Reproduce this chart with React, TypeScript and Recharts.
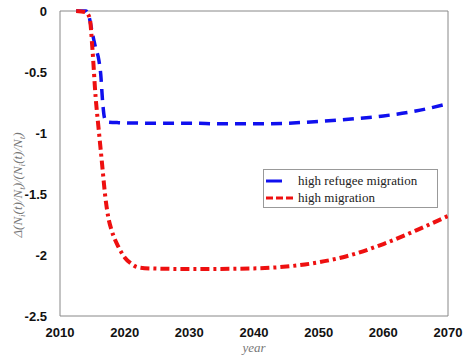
import React from 'react'
import {
  LineChart,
  Line,
  XAxis,
  YAxis,
  ReferenceLine,
  Label,
} from 'recharts'

const xTicks = [2010, 2020, 2030, 2040, 2050, 2060, 2070]
const yTicks = [0, -0.5, -1, -1.5, -2, -2.5]

const refugeeYears = [
  2012.5, 2014, 2014.4, 2015, 2015.5, 2016, 2016.3, 2016.6, 2016.9, 2017.3,
  2019, 2025, 2030, 2035, 2040, 2045, 2050, 2055, 2060, 2065, 2070,
]
const refugeeValues = [
  0, 0, -0.03, -0.18, -0.3, -0.4, -0.52, -0.75, -0.88, -0.91, -0.915, -0.92,
  -0.92, -0.925, -0.925, -0.92, -0.905, -0.885, -0.86, -0.82, -0.76,
]

const migrationYears = [
  2012.5, 2014, 2014.6, 2015, 2015.5, 2016, 2016.5, 2017, 2017.5, 2018, 2019,
  2020, 2021, 2022, 2024, 2030, 2040, 2045, 2050, 2055, 2060, 2065, 2070,
]
const migrationValues = [
  0, -0.01, -0.06, -0.3, -0.7, -0.98, -1.25, -1.52, -1.7, -1.8, -1.93, -2.02,
  -2.07, -2.1, -2.11, -2.115, -2.11, -2.095, -2.06, -2.0, -1.91, -1.8, -1.68,
]

const refugeeData = refugeeYears.map((year, i) => ({ year, value: refugeeValues[i] }))
const migrationData = migrationYears.map((year, i) => ({ year, value: migrationValues[i] }))

const tickStyle = {
  fontFamily: '"Liberation Sans", Arial, sans-serif',
  fontSize: 13,
  fontWeight: 'bold',
  fill: '#111',
}

const legendItems = [
  { name: 'high refugee migration', color: '#1010ee', dash: '0', len: 16 },
  { name: 'high migration', color: '#ee1010', dash: '7 3', len: 28 },
]

// legend box drawn over the plot, like the matlab one
const LegendBox = () => (
  <div
    style={{
      position: 'absolute',
      left: 263,
      top: 169,
      width: 175,
      height: 39,
      border: '1px solid #999',
      background: '#fff',
      fontFamily: '"Liberation Serif", serif',
      fontSize: 13,
      color: '#222',
      boxSizing: 'border-box',
      paddingTop: 2,
    }}
  >
    {legendItems.map((item) => (
      <div key={item.name} style={{ display: 'flex', alignItems: 'center', height: 17 }}>
        <svg width={34} height={10}>
          <line
            x1={2}
            x2={2 + item.len}
            y1={5}
            y2={5}
            stroke={item.color}
            strokeWidth={3}
            strokeDasharray={item.dash}
          />
        </svg>
        <span>{item.name}</span>
      </div>
    ))}
  </div>
)

const YLabel = () => {
  const cx = 22
  const cy = 185
  return (
    <text
      x={cx}
      y={cy}
      transform={`rotate(-90, ${cx}, ${cy})`}
      textAnchor="middle"
      fill="#777"
      fontFamily='"Liberation Serif", serif'
      fontStyle="italic"
      fontSize={13}
    >
      Δ(N<tspan fontSize={9} dy={3}>i</tspan>
      <tspan dy={-3}>(t)/N</tspan>
      <tspan fontSize={9} dy={3}>t</tspan>
      <tspan dy={-3}>)/(N</tspan>
      <tspan fontSize={9} dy={3}>i</tspan>
      <tspan dy={-3}>(t)/N</tspan>
      <tspan fontSize={9} dy={3}>t</tspan>
      <tspan dy={-3}>)</tspan>
    </text>
  )
}

export default function App() {
  return (
    <div style={{ position: 'absolute', left: 0, top: 0, width: 465, height: 358, background: '#fff' }}>
      <LineChart
        width={465}
        height={358}
        margin={{ top: 11, right: 17, left: 0, bottom: 0 }}
      >
        <XAxis
          dataKey="year"
          type="number"
          domain={[2010, 2070]}
          ticks={xTicks}
          allowDataOverflow
          tick={tickStyle}
          tickLine={false}
          tickMargin={6}
          height={42}
          stroke="#888"
        >
          <Label
            value="year"
            position="insideBottom"
            offset={6}
            fill="#777"
            fontFamily='"Liberation Serif", serif'
            fontStyle="italic"
            fontSize={13}
          />
        </XAxis>
        <YAxis
          dataKey="value"
          type="number"
          domain={[-2.5, 0]}
          ticks={yTicks}
          tick={tickStyle}
          tickLine={false}
          tickMargin={7}
          width={60}
          stroke="#888"
          label={<YLabel />}
        />
        <ReferenceLine y={0} stroke="#888" />
        <ReferenceLine x={2070} stroke="#888" />
        <Line
          data={refugeeData}
          dataKey="value"
          name="high refugee migration"
          type="monotone"
          stroke="#1010ee"
          strokeWidth={3.5}
          strokeDasharray="11 7"
          dot={false}
          isAnimationActive={false}
        />
        <Line
          data={migrationData}
          dataKey="value"
          name="high migration"
          type="monotone"
          stroke="#ee1010"
          strokeWidth={4}
          strokeDasharray="9 4 3 4"
          dot={false}
          isAnimationActive={false}
        />
      </LineChart>
      <LegendBox />
    </div>
  )
}
